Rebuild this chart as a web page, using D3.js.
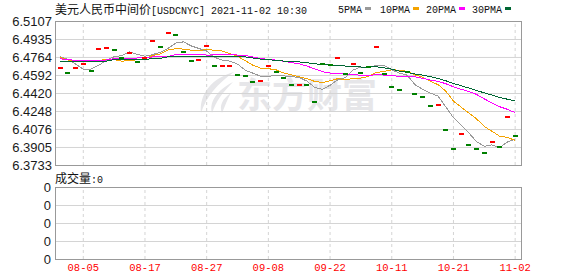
<!DOCTYPE html>
<html>
<head>
<meta charset="utf-8">
<script src="https://cdn.jsdelivr.net/npm/d3@7"></script>
<style>
  body { margin: 0; background: #fff; }
  svg { display: block; }
</style>
</head>
<body>
<div id="chart"></div>
<script>
// trading days shown on the chart
const dates = ["08-02","08-03","08-04","08-05","08-06","08-09","08-10","08-11","08-12","08-13",
  "08-16","08-17","08-18","08-19","08-20","08-23","08-24","08-25","08-26","08-27",
  "08-30","08-31","09-01","09-02","09-03","09-06","09-07","09-08","09-09","09-10",
  "09-13","09-14","09-15","09-16","09-17","09-22","09-23","09-24","09-27","09-28",
  "09-29","09-30","10-08","10-11","10-12","10-13","10-14","10-15","10-18","10-19",
  "10-20","10-21","10-22","10-25","10-26","10-27","10-28","10-29","11-01","11-02"];

// daily fixing (open = close, drawn as a flat tick)
const closes = [6.4656, 6.4608, 6.4656, 6.4694, 6.4627, 6.4837, 6.4847, 6.4828, 6.4751, 6.4805,
  6.4713, 6.4757, 6.4913, 6.4856, 6.4990, 6.4971, 6.4808, 6.4723, 6.4732, 6.4866,
  6.4675, 6.4676, 6.4677, 6.4589, 6.4579, 6.4525, 6.4535, 6.4675, 6.4620, 6.4560,
  6.4494, 6.4495, 6.4493, 6.4331, 6.4693, 6.4688, 6.4751, 6.4598, 6.4694, 6.4608,
  6.4667, 6.4856, 6.4598, 6.4474, 6.4446, 6.4616, 6.4408, 6.4379, 6.4293, 6.4303,
  6.4064, 6.3883, 6.4026, 6.3921, 6.3882, 6.3845, 6.3950, 6.3902, 6.4188, 6.4007];
// 1 = red tick, 0 = green tick
const upDays = [1,0,1,1,0,1,1,0,0,1, 0,1,1,0,1,0,0,0,1,1, 0,1,1,0,0,0,1,1,0,0,
  0,1,0,0,0,0,1,0,1,0, 0,1,0,0,0,0,0,0,0,1, 0,0,1,0,0,0,1,0,1,0];

const ma5 = [6.4766, 6.4742, 6.4697, 6.4646, 6.4648, 6.4684, 6.4732, 6.4766, 6.4778, 6.4813,
  6.4788, 6.4770, 6.4787, 6.4808, 6.4846, 6.4897, 6.4908, 6.4869, 6.4845, 6.4820,
  6.4761, 6.4734, 6.4724, 6.4696, 6.4638, 6.4609, 6.4580, 6.4580, 6.4587, 6.4583,
  6.4576, 6.4569, 6.4533, 6.4474, 6.4455, 6.4494, 6.4546, 6.4567, 6.4639, 6.4668,
  6.4664, 6.4685, 6.4685, 6.4641, 6.4609, 6.4590, 6.4500, 6.4455, 6.4420, 6.4391,
  6.4289, 6.4184, 6.4114, 6.4039, 6.3955, 6.3911, 6.3925, 6.3900, 6.3953, 6.3978];
const ma10 = [6.4761, 6.4735, 6.4728, 6.4728, 6.4728, 6.4728, 6.4742, 6.4738, 6.4723, 6.4731,
  6.4736, 6.4751, 6.4777, 6.4793, 6.4830, 6.4843, 6.4839, 6.4829, 6.4827, 6.4833,
  6.4829, 6.4821, 6.4797, 6.4770, 6.4729, 6.4685, 6.4657, 6.4652, 6.4641, 6.4611,
  6.4593, 6.4574, 6.4556, 6.4531, 6.4519, 6.4536, 6.4557, 6.4549, 6.4557, 6.4562,
  6.4579, 6.4616, 6.4626, 6.4640, 6.4639, 6.4627, 6.4593, 6.4571, 6.4531, 6.4500,
  6.4439, 6.4342, 6.4285, 6.4229, 6.4173, 6.4100, 6.4055, 6.4007, 6.3996, 6.3967];
const ma20 = [6.4747, 6.4738, 6.4732, 6.4732, 6.4732, 6.4732, 6.4735, 6.4747, 6.4747, 6.4751,
  6.4754, 6.4757, 6.4764, 6.4764, 6.4770, 6.4786, 6.4789, 6.4792, 6.4792, 6.4782,
  6.4783, 6.4786, 6.4787, 6.4782, 6.4779, 6.4764, 6.4748, 6.4741, 6.4734, 6.4722,
  6.4711, 6.4698, 6.4677, 6.4650, 6.4624, 6.4610, 6.4607, 6.4601, 6.4599, 6.4586,
  6.4586, 6.4595, 6.4591, 6.4586, 6.4579, 6.4581, 6.4575, 6.4560, 6.4544, 6.4531,
  6.4509, 6.4479, 6.4455, 6.4435, 6.4406, 6.4364, 6.4324, 6.4289, 6.4264, 6.4233];
const ma30 = [6.4716, 6.4716, 6.4716, 6.4716, 6.4716, 6.4716, 6.4725, 6.4738, 6.4738, 6.4738,
  6.4738, 6.4738, 6.4751, 6.4751, 6.4766, 6.4766, 6.4766, 6.4766, 6.4766, 6.4773,
  6.4773, 6.4773, 6.4773, 6.4764, 6.4764, 6.4754, 6.4744, 6.4738, 6.4732, 6.4725,
  6.4719, 6.4716, 6.4710, 6.4698, 6.4693, 6.4688, 6.4685, 6.4677, 6.4675, 6.4668,
  6.4667, 6.4670, 6.4660, 6.4647, 6.4629, 6.4616, 6.4602, 6.4591, 6.4576, 6.4558,
  6.4537, 6.4511, 6.4489, 6.4467, 6.4444, 6.4421, 6.4401, 6.4376, 6.4361, 6.4343];

const yTicks = [6.5107, 6.4935, 6.4764, 6.4592, 6.4420, 6.4248, 6.4076, 6.3905, 6.3733];
const xTicks = ["08-05","08-17","08-27","09-08","09-22","10-11","10-21","11-02"];
const volTicks = [0, 1, 2, 3, 4];
const volValue = 0;

const maSeries = [
  {name: "5PMA", values: ma5, color: "#999999"},
  {name: "10PMA", values: ma10, color: "#f4a300"},
  {name: "20PMA", values: ma20, color: "#ff00ff"},
  {name: "30PMA", values: ma30, color: "#006633"}
];

const W = 578, H = 276;
const plot = {left: 55, right: 521, top: 21, bottom: 165};
const vol = {top: 187, bottom: 259};
const gridColor = "#d4d4d4";
const numFont = "'Liberation Sans', Arial, sans-serif";
const monoFont = "'Liberation Mono', 'DejaVu Sans Mono', monospace";
const cjkFont = "'Noto Sans CJK SC', sans-serif";

const svg = d3.select("#chart").append("svg")
  .attr("width", W).attr("height", H);

const x = d3.scaleBand().domain(dates).range([56.3, 519]);
const cx = d => x(d) + x.bandwidth() / 2;
const y = d3.scaleLinear().domain([6.3733, 6.5107]).range([plot.bottom, plot.top]);
const yv = d3.scaleLinear().domain([0, 4]).range([vol.bottom, vol.top]);

// watermark
const wm = svg.append("g").attr("fill", "#e6e6e9");
wm.append("path")
  .attr("d", "M234,72 C212,78 199,94 201,113 C206,97 217,84 234,72 Z " +
             "M233,82 C217,90 209,102 212,113 C216,101 223,92 233,82 Z " +
             "M231,93 C222,99 219,106 222,113 C225,106 227,100 231,93 Z");
wm.append("text")
  .attr("x", 237).attr("y", 108)
  .attr("font-family", cjkFont).attr("font-weight", "bold").attr("font-size", 35)
  .text("东方财富");

// main panel grid
svg.append("g")
  .attr("transform", `translate(${plot.left},0)`)
  .call(d3.axisLeft(y).tickValues(yTicks).tickSize(-(plot.right - plot.left))
    .tickPadding(3).tickFormat(d3.format(".4f")))
  .call(g => g.select(".domain").remove())
  .call(g => g.selectAll("line").attr("stroke", gridColor))
  .call(g => g.selectAll("text").attr("fill", "#1a1a1a")
    .style("font-family", numFont).style("font-size", "13px"));

svg.append("g")
  .attr("transform", `translate(0,${plot.bottom})`)
  .call(d3.axisBottom(x).tickValues(xTicks).tickSize(-(plot.bottom - plot.top)).tickFormat(""))
  .call(g => g.select(".domain").remove())
  .call(g => g.selectAll("line").attr("stroke", gridColor).attr("stroke-dasharray", "3,3"));

// moving averages
const line = d3.line().x((v, i) => cx(dates[i])).y(v => y(v));
svg.append("g").selectAll("path")
  .data(maSeries)
  .join("path")
  .attr("d", s => line(s.values))
  .attr("fill", "none")
  .attr("stroke", s => s.color)
  .attr("stroke-width", 1)
  .attr("shape-rendering", "crispEdges");

// daily ticks
svg.append("g").selectAll("rect")
  .data(closes)
  .join("rect")
  .attr("x", (v, i) => Math.round(cx(dates[i]) - 2.5))
  .attr("y", v => Math.round(y(v) - 1))
  .attr("width", 5)
  .attr("height", 2)
  .attr("fill", (v, i) => upDays[i] ? "#ff0000" : "#008000");

svg.append("rect")
  .attr("x", plot.left + 0.5).attr("y", plot.top + 0.5)
  .attr("width", plot.right - plot.left).attr("height", plot.bottom - plot.top)
  .attr("fill", "none").attr("stroke", "#999");

// title and legend
const title = svg.append("text").attr("x", plot.left).attr("y", 14).attr("fill", "#111");
title.append("tspan").style("font-family", cjkFont).style("font-size", "12px").text("美元人民币中间价");
title.append("tspan").style("font-family", monoFont).style("font-size", "10px").text("[USDCNYC] 2021-11-02 10:30");

const legendX = [338, 380, 426, 472];
const leg = svg.append("g").selectAll("g")
  .data(maSeries)
  .join("g")
  .attr("transform", (s, i) => `translate(${legendX[i]},0)`);
leg.append("text")
  .attr("y", 13)
  .attr("fill", "#111")
  .style("font-family", monoFont).style("font-size", "10px")
  .text(s => s.name);
leg.append("rect")
  .attr("x", s => s.name.length * 6 + 3).attr("y", 7)
  .attr("width", 6).attr("height", 3)
  .attr("fill", s => s.color);

// volume panel
const vt = svg.append("text").attr("x", plot.left).attr("y", 183).attr("fill", "#111");
vt.append("tspan").style("font-family", cjkFont).style("font-size", "12px").text("成交量");
vt.append("tspan").style("font-family", monoFont).style("font-size", "10px").text(":" + volValue);

svg.append("g")
  .attr("transform", `translate(${plot.left},0)`)
  .call(d3.axisLeft(yv).tickValues(volTicks).tickSize(-(plot.right - plot.left))
    .tickPadding(4).tickFormat(() => String(volValue)))
  .call(g => g.select(".domain").remove())
  .call(g => g.selectAll("line").attr("stroke", gridColor))
  .call(g => g.selectAll("text").attr("fill", "#1a1a1a")
    .style("font-family", numFont).style("font-size", "13px"));

svg.append("g")
  .attr("transform", `translate(0,${vol.bottom})`)
  .call(d3.axisBottom(x).tickValues(xTicks).tickSize(-(vol.bottom - vol.top)).tickPadding(5))
  .call(g => g.select(".domain").remove())
  .call(g => g.selectAll("line").attr("stroke", gridColor).attr("stroke-dasharray", "3,3"))
  .call(g => g.selectAll("text").attr("fill", "#ff0000")
    .style("font-family", monoFont).style("font-size", "10.5px"));

svg.append("rect")
  .attr("x", plot.left + 0.5).attr("y", vol.top + 0.5)
  .attr("width", plot.right - plot.left).attr("height", vol.bottom - vol.top)
  .attr("fill", "none").attr("stroke", "#999");
</script>
</body>
</html>
